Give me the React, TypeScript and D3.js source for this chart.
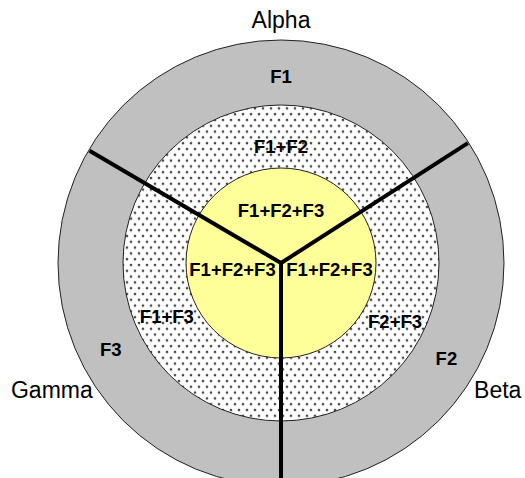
import React from "react";
import * as d3 from "d3";

// three sectors, clockwise from the top; share = angular size
const sectors = ["Alpha", "Beta", "Gamma"];
const sectorShare = [116.9, 122.7, 120.4];
const firstEdgeDeg = -59.6;

// rings from the inside out: outer radius in px
const ringNames = ["core", "pair", "single"];
const ringRadius = [95, 158, 223];

// labels inside the rings: text, angle (deg clockwise from top), radius
const labelText = ["F1", "F2", "F3", "F1+F2", "F2+F3", "F1+F3", "F1+F2+F3", "F1+F2+F3", "F1+F2+F3"];
const labelAngle = [0, 120, 243, 0, 117, 245, 0, 98, 262];
const labelRadius = [187, 191, 191, 117, 128, 126, 53, 49, 49];

// category names outside the outer circle
const catAngle = [0, 120.3, 241];
const catRadius = [243, 251, 262];

const W = 525;
const H = 478;
const cx = 281;
const cy = 263;

const App = () => {
  const start = (firstEdgeDeg * Math.PI) / 180;
  const pie = d3
    .pie<number>()
    .sort(null)
    .value(d => d)
    .startAngle(start)
    .endAngle(start + 2 * Math.PI);
  const slices = pie(sectorShare);

  const ringFill = ["#ffff99", "url(#dots)", "#c0c0c0"];

  const polar = (deg: number, r: number) => {
    const a = (deg * Math.PI) / 180;
    return [Math.sin(a) * r, -Math.cos(a) * r];
  };

  const outer = ringRadius[ringRadius.length - 1];

  return (
    <div style={{ position: "absolute", left: 0, top: 0 }}>
      <svg width={W} height={H} style={{ display: "block", background: "#fff" }}>
        <defs>
          <pattern id="dots" width={8} height={11.6} patternUnits="userSpaceOnUse">
            <rect width={8} height={11.6} fill="#fff" />
            <circle cx={2} cy={2} r={1.35} fill="#4a4a4a" />
            <circle cx={6} cy={7.8} r={1.35} fill="#4a4a4a" />
          </pattern>
        </defs>
        <g transform={`translate(${cx},${cy})`}>
          {ringRadius
            .map((r, i) => ({ r, i }))
            .reverse()
            .map(({ r, i }) => (
              <circle
                key={ringNames[i]}
                r={r}
                fill={ringFill[i]}
                stroke="#222"
                strokeWidth={1}
              />
            ))}
          {slices.map((s, i) => {
            const [x, y] = polar((s.startAngle * 180) / Math.PI, outer - 1);
            return (
              <line
                key={"l" + i}
                x1={0}
                y1={0}
                x2={x}
                y2={y}
                stroke="#000"
                strokeWidth={4}
              />
            );
          })}
          {labelText.map((t, i) => {
            const [x, y] = polar(labelAngle[i], labelRadius[i]);
            return (
              <text
                key={"t" + i}
                x={x}
                y={y}
                dy="0.36em"
                textAnchor="middle"
                fontFamily="Liberation Sans, Arial, sans-serif"
                fontWeight="bold"
                fontSize={18.5}
                fill="#000"
              >
                {t}
              </text>
            );
          })}
          {sectors.map((name, i) => {
            const [x, y] = polar(catAngle[i], catRadius[i]);
            return (
              <text
                key={name}
                x={x}
                y={y}
                dy="0.36em"
                textAnchor="middle"
                fontFamily="Liberation Sans, Arial, sans-serif"
                fontSize={23}
                fill="#000"
              >
                {name}
              </text>
            );
          })}
        </g>
      </svg>
    </div>
  );
};

export default App;
